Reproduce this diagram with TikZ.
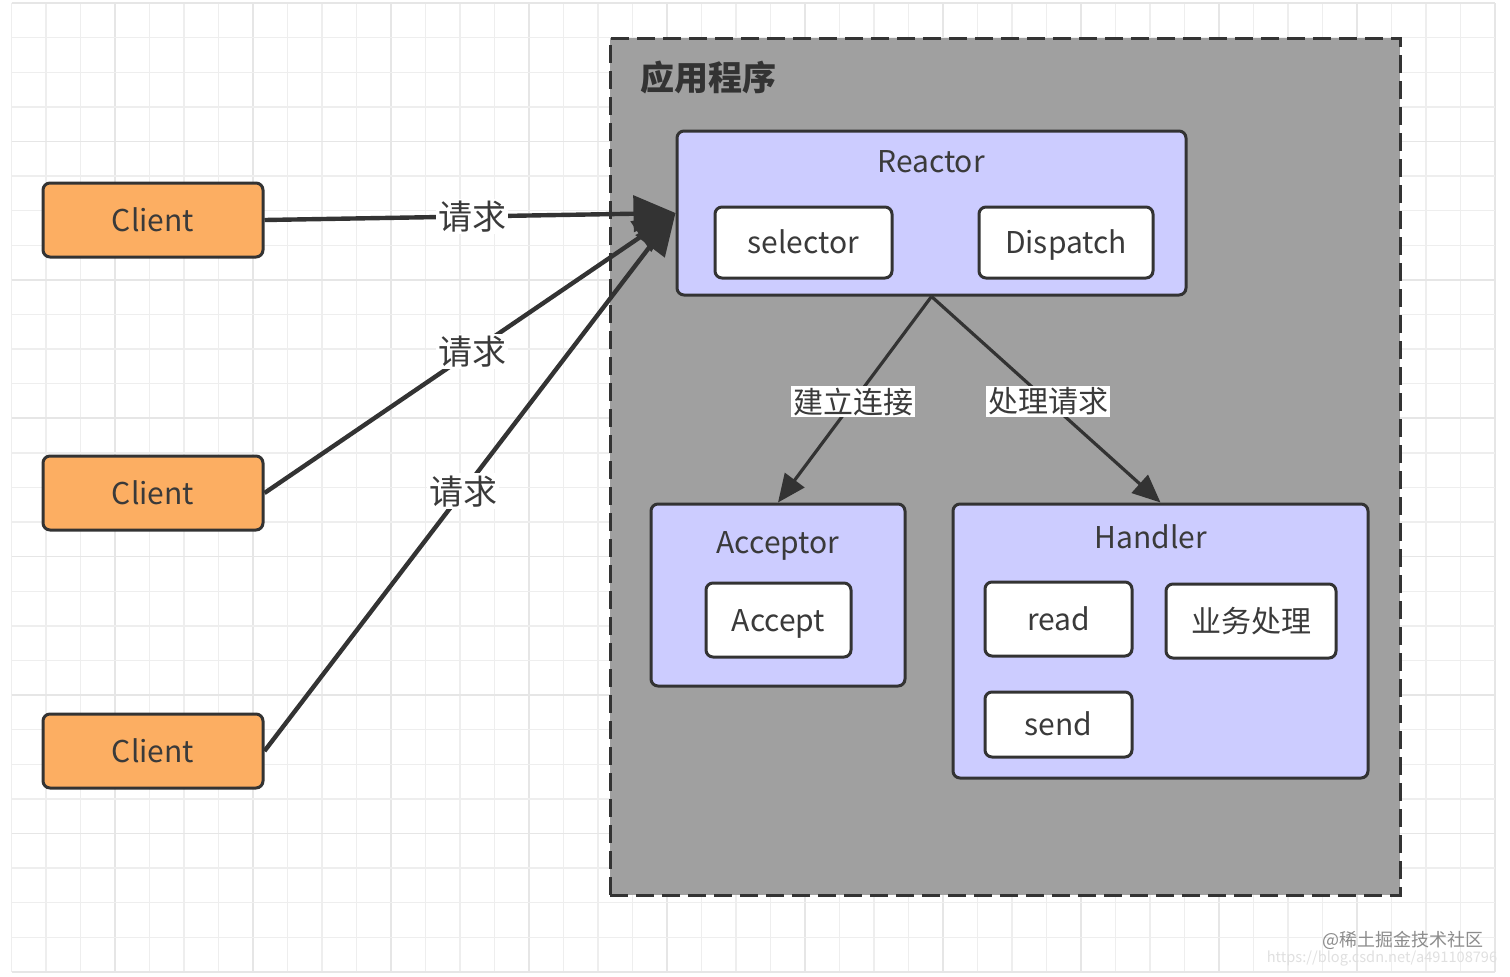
\documentclass[tikz,border=0pt]{standalone}
\usepackage{fontspec}
\setmainfont{Noto Sans CJK SC}
\usetikzlibrary{arrows.meta}
\definecolor{dk}{HTML}{333333}
\definecolor{txt}{HTML}{3A3A3A}
\definecolor{orng}{HTML}{FCAE62}
\definecolor{lav}{HTML}{CCCCFF}
\definecolor{appgray}{HTML}{A0A0A0}
\definecolor{gridminor}{HTML}{EEEEEE}
\definecolor{gridmajor}{HTML}{E6E6E6}
\tikzset{
  box/.style={draw=dk, line width=1.5pt, rounded corners=3.5pt, inner sep=0pt, text=txt},
  client/.style={box, fill=orng, minimum width=110pt, minimum height=37pt, font=\fontsize{15}{15}\selectfont},
  panel/.style={box, fill=lav},
  item/.style={box, fill=white, font=\fontsize{15}{15}\selectfont, text height=11.5pt, text depth=0.5pt},
  ttl/.style={text=txt, font=\fontsize{15}{15}\selectfont, inner sep=0pt},
  bigarrow/.style={draw=dk, line width=2.2pt, -{Triangle[length=21pt,width=18pt]}},
  smallarrow/.style={draw=dk, line width=1.6pt, -{Triangle[length=14pt,width=12pt]}},
  lbl/.style={fill=white, text=txt, inner sep=1pt, font=\fontsize{17}{17}\selectfont},
  slbl/.style={fill=white, text=txt, inner sep=1pt, font=\fontsize{15}{15}\selectfont},
}
\begin{document}
\begin{tikzpicture}[x=0.5pt,y=-0.5pt]
\useasboundingbox (0,0) rectangle (1510,976);
\fill[white] (0,0) rectangle (1510,976);
% grid
\foreach \i in {0,...,43}{
  \pgfmathtruncatemacro{\m}{mod(\i,4)}
  \ifnum\m=3
    \draw[gridmajor, line width=0.8pt] ({11.5+34.5*\i},3) -- ({11.5+34.5*\i},972);
  \else
    \draw[gridminor, line width=0.7pt] ({11.5+34.5*\i},3) -- ({11.5+34.5*\i},972);
  \fi
}
\foreach \j in {0,...,28}{
  \pgfmathtruncatemacro{\m}{mod(\j,4)}
  \ifnum\m=0
    \draw[gridmajor, line width=0.8pt] (11.5,{3+34.6*\j}) -- (1495,{3+34.6*\j});
  \else
    \draw[gridminor, line width=0.7pt] (11.5,{3+34.6*\j}) -- (1495,{3+34.6*\j});
  \fi
}
% application container
\node[draw=dk, fill=appgray, line width=1.5pt, dash pattern=on 9pt off 4pt, inner sep=0pt,
      minimum width=395pt, minimum height=428.5pt] (app) at (1005,466.5) {};
\node[anchor=west, text=dk, inner sep=0pt, font=\fontsize{17}{17}\selectfont\bfseries] (apptitle) at (640,78) {应用程序};
% reactor
\node[panel, minimum width=254.5pt, minimum height=82pt] (reactor) at (931.5,213) {};
\node[ttl] (reactortxt) at (931,162) {Reactor};
\node[item, minimum width=88.5pt, minimum height=35.5pt] (selector) at (803.5,242.5) {selector};
\node[item, minimum width=87pt, minimum height=35.5pt] (dispatch) at (1066,242.5) {Dispatch};
% acceptor
\node[panel, minimum width=127pt, minimum height=91pt] (acceptor) at (778,595) {};
\node[ttl] (acceptortxt) at (778,546) {Acceptor};
\node[item, minimum width=72.5pt, minimum height=37pt] (accept) at (778.5,620) {Accept};
% handler
\node[panel, minimum width=207.5pt, minimum height=137pt] (handler) at (1160.5,641) {};
\node[ttl] (handlertxt) at (1151,537) {Handler};
\node[item, minimum width=73.5pt, minimum height=37pt] (read) at (1058.5,619) {read};
\node[item, minimum width=85pt, minimum height=37pt] (biz) at (1251,621) {业务处理};
\node[item, minimum width=73.5pt, minimum height=32.5pt] (send) at (1058.5,724.5) {send};
% clients
\node[client] (c1) at (153,220) {Client};
\node[client] (c2) at (153,493) {Client};
\node[client] (c3) at (153,751) {Client};
% request arrows
\draw[bigarrow] (c1.east) -- node[lbl, pos=0.505] (l1) {请求} (reactor.west);
\draw[bigarrow] (c2.east) -- node[lbl, pos=0.505] (l2) {请求} (reactor.west);
\draw[bigarrow] (c3.east) -- node[lbl, pos=0.483] (l3) {请求} (reactor.west);
% internal arrows
\draw[smallarrow] (reactor.south) -- node[slbl, pos=0.51] (l4) {建立连接} (acceptor.north);
\draw[smallarrow] (reactor.south) -- node[slbl, pos=0.51] (l5) {处理请求} (handler.north);
% watermark
\node[text=black!45, inner sep=0pt, font=\fontsize{9}{9}\selectfont] (wm1) at (1403,940) {@稀土掘金技术社区};
\node[text=black!12, inner sep=0pt, font=\fontsize{7.3}{7.3}\selectfont] (wm2) at (1382,958) {https://blog.csdn.net/a491108796};
\end{tikzpicture}
\end{document}
